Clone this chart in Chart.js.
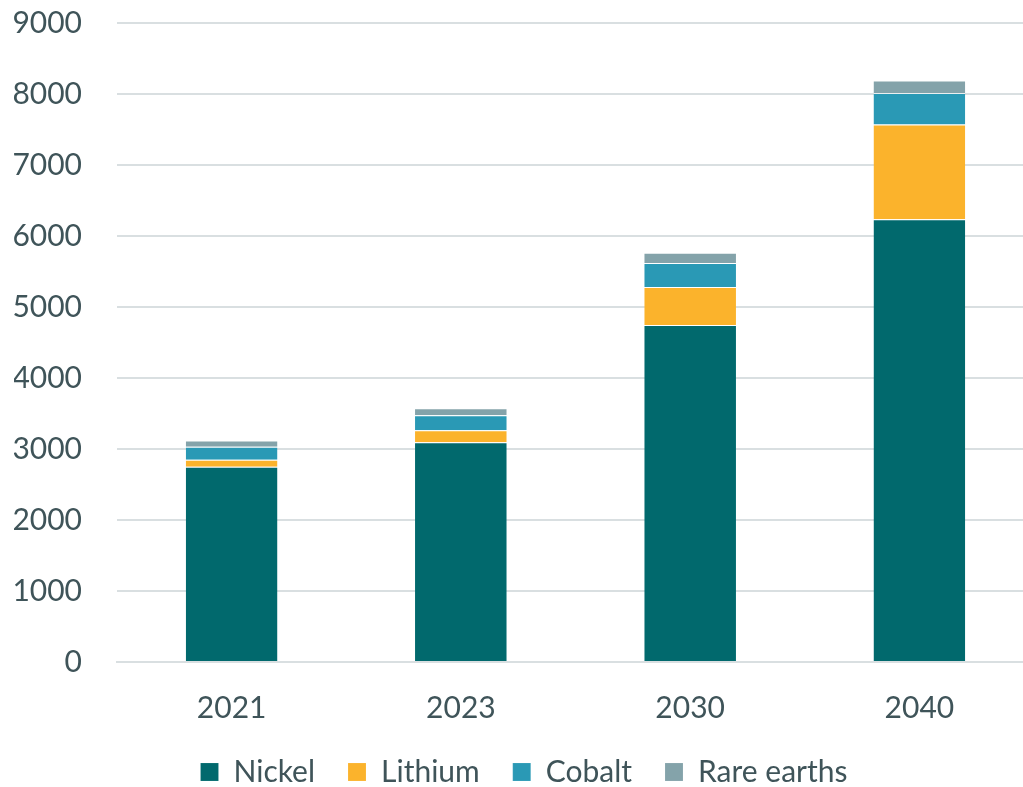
<!DOCTYPE html>
<html>
<head>
<meta charset="utf-8">
<script src="https://cdn.jsdelivr.net/npm/chart.js@4"></script>
<style>
  html, body { margin: 0; padding: 0; background: #fff; overflow: hidden; }
  #wrap { width: 1034px; height: 797px; }
</style>
</head>
<body>
<div id="wrap"><canvas id="chart"></canvas></div>
<script>
const years = ["2021", "2023", "2030", "2040"];
const nickel = [2750, 3095, 4745, 6235];
const lithium = [100, 170, 535, 1335];
const cobalt = [180, 210, 340, 445];
const rareEarths = [90, 100, 145, 175];
const yTicks = [0, 1000, 2000, 3000, 4000, 5000, 6000, 7000, 8000, 9000];

const textColor = "#3f5459";
const gridColor = "#d9dfe1";
const fontFamily = "Lato, 'Open Sans', sans-serif";

function series(label, data, color) {
  return {
    label: label,
    data: data,
    backgroundColor: color,
    borderColor: "rgba(255,255,255,0.5)",
    borderWidth: { top: 1, bottom: 0, left: 0, right: 0 },
    borderSkipped: false,
    barPercentage: 0.40,
    categoryPercentage: 1.0,
  };
}

new Chart(document.getElementById("chart"), {
  type: "bar",
  data: {
    labels: years,
    datasets: [
      series("Nickel", nickel, "#01696d"),
      series("Lithium", lithium, "#fbb32c"),
      series("Cobalt", cobalt, "#2a99b5"),
      series("Rare earths", rareEarths, "#84a3aa"),
    ],
  },
  options: {
    responsive: true,
    maintainAspectRatio: false,
    animation: false,
    layout: { padding: { top: 23, right: 0, left: 14, bottom: 0 } },
    plugins: {
      legend: {
        position: "bottom",
        labels: {
          color: textColor,
          font: { family: fontFamily, size: 30 },
          boxWidth: 18,
          boxHeight: 18,
          padding: 33,
        },
      },
      tooltip: { enabled: false },
    },
    scales: {
      x: {
        stacked: true,
        grid: { display: false },
        border: { color: gridColor, width: 2 },
        afterFit: axis => { axis.height = 62; },
        ticks: {
          color: textColor,
          font: { family: fontFamily, size: 30 },
          padding: 20,
        },
      },
      y: {
        stacked: true,
        min: 0,
        max: 9000,
        afterBuildTicks: axis => { axis.ticks = yTicks.map(v => ({ value: v })); },
        afterFit: axis => { axis.width = 103; axis.paddingTop = 0; axis.paddingBottom = 0; },
        grid: { color: gridColor, lineWidth: 2, drawTicks: false },
        border: { display: false },
        ticks: {
          color: textColor,
          font: { family: fontFamily, size: 30 },
          padding: 35,
          callback: v => String(v),
        },
      },
    },
  },
});
</script>
</body>
</html>
